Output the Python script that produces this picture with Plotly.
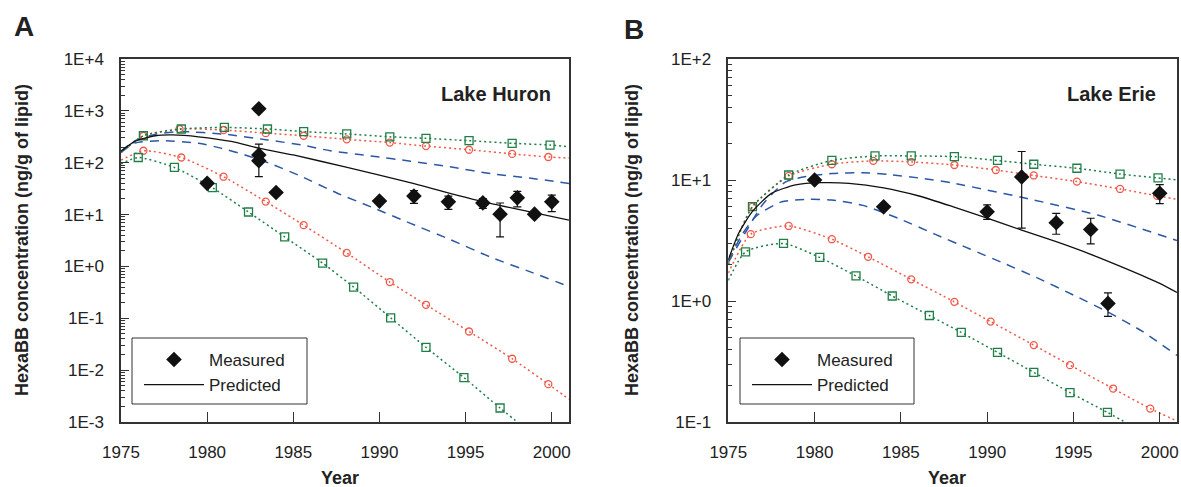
import plotly.graph_objects as go

W, H = 1181, 487

# ---------------- Panel A: Lake Huron ----------------
a_meas_year = [1980, 1983, 1983, 1983, 1984, 1990, 1992, 1994, 1996, 1997, 1998, 1999, 2000]
a_meas_val = [40, 1100, 141, 109, 26.7, 18.2, 22.7, 17.6, 16.8, 10.2, 21, 10.2, 17.6]
a_meas_sd = [0, 0, 87, 0, 0, 0, 6.2, 5.0, 3.6, 6.5, 6.9, 0, 6.2]

a_pred_year = [1975, 1975.8, 1977, 1978, 1979.5, 1981.4, 1983, 1985, 1988, 1991.6, 1995.5, 1998, 2001]
a_pred_val = [166, 257, 331, 343, 316, 257, 191, 141, 83, 42.7, 19.5, 12.7, 7.8]

a_blue_hi_year = [1975, 1975.8, 1977, 1978.5, 1981, 1983.5, 1985.5, 1987.15, 1989.5, 1991.8, 1994.1, 1996.45, 1998.8, 2001]
a_blue_hi_val = [166, 263, 355, 398, 355, 275, 219, 170, 135, 107, 83.2, 61.7, 50.1, 39.8]

a_blue_lo_year = [1975, 1975.8, 1977.4, 1979.5, 1980.8, 1982.2, 1983.6, 1985.3, 1987.5, 1989.5, 1991.8, 1994.1, 1996.45, 1998.8, 2001]
a_blue_lo_val = [158, 240, 266, 237, 191, 141, 98, 57.5, 26.3, 14.1, 6.76, 3.31, 1.51, 0.776, 0.41]

a_red_hi_year = [1975, 1976.3, 1978.4, 1980.95, 1983.4, 1985.6, 1988.1, 1990.6, 1992.7, 1995.2, 1997.7, 1999.8, 2001]
a_red_hi_val = [158, 331, 447, 427, 372, 331, 282, 245, 209, 178, 148, 129, 123]

a_green_hi_year = [1975, 1976.3, 1978.5, 1981, 1983.5, 1985.6, 1988.1, 1990.6, 1992.7, 1995.2, 1997.7, 1999.9, 2001]
a_green_hi_val = [158, 331, 447, 479, 447, 398, 359, 316, 295, 266, 237, 219, 204]

a_red_lo_year = [1975, 1976.3, 1978.5, 1980.95, 1983.4, 1985.6, 1988.1, 1990.6, 1992.7, 1995.2, 1997.7, 1999.8, 2001]
a_red_lo_val = [112, 170, 126, 53.7, 17.8, 6.24, 1.82, 0.50, 0.182, 0.0556, 0.0166, 0.00537, 0.00275]

a_green_lo_year = [1975, 1976.0, 1978.1, 1980.3, 1982.4, 1984.5, 1986.7, 1988.5, 1990.65, 1992.7, 1994.9, 1997.0, 1999]
a_green_lo_val = [95, 126, 81, 33, 11.2, 3.7, 1.16, 0.40, 0.102, 0.0275, 0.0072, 0.00186, 0.00054]

# ---------------- Panel B: Lake Erie ----------------
b_meas_year = [1980, 1984, 1990, 1992, 1994, 1996, 1997, 2000]
b_meas_val = [10.0, 6.0, 5.47, 10.6, 4.43, 3.9, 0.955, 7.77]
b_meas_sd = [0, 0, 0.75, 6.6, 0.87, 0.93, 0.21, 1.4]

b_pred_year = [1975, 1975.6, 1976.4, 1977.5, 1978.9, 1980.4, 1982, 1984, 1986, 1988, 1990, 1992, 1994, 1996, 1998, 2000, 2001]
b_pred_val = [2.19, 3.63, 5.5, 7.76, 9.12, 9.5, 9.38, 8.61, 7.41, 6.03, 4.84, 3.85, 3.09, 2.43, 1.86, 1.40, 1.175]

b_blue_hi_year = [1975, 1976, 1977, 1978.3, 1979.5, 1981, 1982.8, 1984.3, 1986.25, 1988, 1992.7, 1996.4, 2001]
b_blue_hi_val = [2.09, 3.7, 6.3, 9.6, 10.7, 11.3, 11.5, 11.1, 10.3, 9.44, 6.84, 5.13, 3.16]

b_blue_lo_year = [1975, 1975.8, 1976.6, 1978.1, 1979.7, 1981, 1982.8, 1984.9, 1987, 1989, 1991, 1993, 1995, 1997, 1999, 2001]
b_blue_lo_val = [2.14, 3.55, 5.01, 6.61, 6.92, 6.84, 6.17, 4.79, 3.55, 2.69, 2.04, 1.53, 1.12, 0.81, 0.56, 0.355]

b_red_hi_year = [1975, 1975.7, 1976.4, 1978.5, 1981, 1983.4, 1985.6, 1988.1, 1990.5, 1992.7, 1995.2, 1997.7, 1999.85, 2001]
b_red_hi_val = [2.0, 3.8, 6.03, 10.8, 13.5, 14.4, 14.1, 13.3, 12.1, 10.9, 9.7, 8.43, 7.41, 6.92]

b_green_hi_year = [1975, 1975.7, 1976.4, 1978.5, 1981, 1983.5, 1985.6, 1988.1, 1990.6, 1992.7, 1995.2, 1997.7, 1999.9, 2001]
b_green_hi_val = [2.0, 3.8, 6.03, 11.0, 14.5, 15.8, 15.8, 15.6, 14.5, 13.5, 12.5, 11.2, 10.4, 10.0]

b_red_lo_year = [1975, 1976.3, 1978.5, 1981, 1983.1, 1985.6, 1988.1, 1990.2, 1992.7, 1994.8, 1997.3, 1999.45, 2001]
b_red_lo_val = [1.70, 3.57, 4.17, 3.24, 2.32, 1.51, 0.984, 0.676, 0.432, 0.295, 0.189, 0.129, 0.102]

b_green_lo_year = [1975, 1976, 1978.2, 1980.3, 1982.4, 1984.5, 1986.65, 1988.5, 1990.6, 1992.7, 1994.8, 1996.97, 1999]
b_green_lo_val = [1.48, 2.55, 2.99, 2.29, 1.61, 1.10, 0.759, 0.550, 0.376, 0.257, 0.175, 0.120, 0.083]

x_ticks = [1975, 1980, 1985, 1990, 1995, 2000]
a_y_ticks = [1e-3, 1e-2, 1e-1, 1, 10, 100, 1000, 10000]
a_y_text = ["1E-3", "1E-2", "1E-1", "1E+0", "1E+1", "1E+2", "1E+3", "1E+4"]
b_y_ticks = [0.1, 1, 10, 100]
b_y_text = ["1E-1", "1E+0", "1E+1", "1E+2"]

BLUE = "#2b57a6"
RED = "#f0584a"
GREEN = "#1f7f47"
BLACK = "#111111"
FONT = "Liberation Sans, Arial, sans-serif"

fig = go.Figure()


def add_curve(xs, ys, color, dash, xa, ya, symbol=None, mark_from=1, mark_to=-1):
    fig.add_trace(go.Scatter(x=xs, y=ys, mode="lines", xaxis=xa, yaxis=ya,
                             line=dict(color=color, width=1.5, dash=dash, shape="spline", smoothing=0.6),
                             showlegend=False, hoverinfo="skip"))
    if symbol:
        fig.add_trace(go.Scatter(x=xs[mark_from:mark_to], y=ys[mark_from:mark_to], mode="markers",
                                 xaxis=xa, yaxis=ya,
                                 marker=dict(symbol=symbol, size=8 if symbol == "square" else 7,
                                             color="rgba(255,255,255,0)",
                                             line=dict(color=color, width=1.3)),
                                 showlegend=False, hoverinfo="skip"))


DOT = "2px,3px"
DASH = "9px,7px"

# Panel A curves
add_curve(a_blue_hi_year, a_blue_hi_val, BLUE, DASH, "x", "y")
add_curve(a_blue_lo_year, a_blue_lo_val, BLUE, DASH, "x", "y")
add_curve(a_red_hi_year, a_red_hi_val, RED, DOT, "x", "y", "circle")
add_curve(a_green_hi_year, a_green_hi_val, GREEN, DOT, "x", "y", "square")
add_curve(a_red_lo_year, a_red_lo_val, RED, DOT, "x", "y", "circle")
add_curve(a_green_lo_year, a_green_lo_val, GREEN, DOT, "x", "y", "square")

# Panel B curves
add_curve(b_blue_hi_year, b_blue_hi_val, BLUE, DASH, "x2", "y2")
add_curve(b_blue_lo_year, b_blue_lo_val, BLUE, DASH, "x2", "y2")
add_curve(b_red_hi_year, b_red_hi_val, RED, DOT, "x2", "y2", "circle", 2)
add_curve(b_green_hi_year, b_green_hi_val, GREEN, DOT, "x2", "y2", "square", 2)
add_curve(b_red_lo_year, b_red_lo_val, RED, DOT, "x2", "y2", "circle")
add_curve(b_green_lo_year, b_green_lo_val, GREEN, DOT, "x2", "y2", "square")

# Measured + predicted
for (my, mv, ms, py, pv, xa, ya, lg) in [
    (a_meas_year, a_meas_val, a_meas_sd, a_pred_year, a_pred_val, "x", "y", "legend"),
    (b_meas_year, b_meas_val, b_meas_sd, b_pred_year, b_pred_val, "x2", "y2", "legend2"),
]:
    fig.add_trace(go.Scatter(x=py, y=pv, mode="lines", name="Predicted", xaxis=xa, yaxis=ya,
                             line=dict(color=BLACK, width=1.3, shape="spline", smoothing=0.6),
                             legend=lg, legendrank=2))
    fig.add_trace(go.Scatter(x=my, y=mv, mode="markers", name="Measured", xaxis=xa, yaxis=ya,
                             marker=dict(symbol="diamond", size=12, color=BLACK),
                             error_y=dict(type="data", array=ms, visible=True, color=BLACK,
                                          thickness=1.2, width=4),
                             legend=lg, legendrank=1))


def minor_vals(lo, hi):
    out = []
    for d in range(lo, hi):
        for k in range(2, 10):
            out.append(k * 10 ** d)
    return out


axis_common = dict(showline=True, linecolor="#333333", linewidth=1.5, mirror=True,
                   showgrid=False, zeroline=False, ticks="inside", tickcolor="#333333",
                   automargin=False,
                   tickfont=dict(family=FONT, size=17, color="#222222"))

xd_a = [121 / W, 569 / W]
xd_b = [728.3 / W, 1177 / W]
yd = [(H - 422) / H, (H - 59) / H]

fig.update_layout(
    width=W, height=H, margin=dict(l=0, r=0, t=0, b=0, autoexpand=False),
    paper_bgcolor="white", plot_bgcolor="white",
    font=dict(family=FONT, color="#222222"),
    xaxis=dict(domain=xd_a, range=[1975, 2001], tickvals=x_ticks, ticklen=10,
               ticklabelstandoff=14, anchor="y", **axis_common),
    yaxis=dict(domain=yd, type="log", range=[-3, 4], tickvals=a_y_ticks, ticktext=a_y_text,
               ticklen=8, ticklabelstandoff=12, anchor="x",
               minor=dict(tickvals=minor_vals(-3, 4), ticks="inside", ticklen=4, tickcolor="#333333"),
               **axis_common),
    xaxis2=dict(domain=xd_b, range=[1975, 2001], tickvals=x_ticks, ticklen=10,
                ticklabelstandoff=14, anchor="y2", **axis_common),
    yaxis2=dict(domain=yd, type="log", range=[-1, 2], tickvals=b_y_ticks, ticktext=b_y_text,
                ticklen=8, ticklabelstandoff=12, anchor="x2",
                minor=dict(tickvals=minor_vals(-1, 2), ticks="inside", ticklen=4, tickcolor="#333333"),
                **axis_common),
    legend=dict(x=139 / W, y=(H - 342) / H, xanchor="left", yanchor="top",
                bgcolor="rgba(0,0,0,0)", borderwidth=0, itemwidth=60,
                font=dict(family=FONT, size=17, color="#222222"), tracegroupgap=0),
    legend2=dict(x=747 / W, y=(H - 342) / H, xanchor="left", yanchor="top",
                 bgcolor="rgba(0,0,0,0)", borderwidth=0, itemwidth=60,
                 font=dict(family=FONT, size=17, color="#222222"), tracegroupgap=0),
    shapes=[
        dict(type="rect", xref="paper", yref="paper", x0=132 / W, x1=307 / W,
             y0=(H - 404) / H, y1=(H - 338) / H, line=dict(color="#333333", width=1)),
        dict(type="rect", xref="paper", yref="paper", x0=740 / W, x1=914 / W,
             y0=(H - 404) / H, y1=(H - 338) / H, line=dict(color="#333333", width=1)),
    ],
    annotations=[
        dict(text="<b>A</b>", x=12 / W, y=(H - 26) / H, xref="paper", yref="paper",
             xanchor="left", yanchor="middle", showarrow=False, font=dict(size=28, color="#222222")),
        dict(text="<b>B</b>", x=622 / W, y=(H - 29) / H, xref="paper", yref="paper",
             xanchor="left", yanchor="middle", showarrow=False, font=dict(size=28, color="#222222")),
        dict(text="<b>Lake Huron</b>", x=553 / W, y=(H - 94) / H, xref="paper", yref="paper",
             xanchor="right", yanchor="middle", showarrow=False, font=dict(size=20, color="#222222")),
        dict(text="<b>Lake Erie</b>", x=1158 / W, y=(H - 94) / H, xref="paper", yref="paper",
             xanchor="right", yanchor="middle", showarrow=False, font=dict(size=20, color="#222222")),
        dict(text="<b>HexaBB concentration (ng/g of lipid)</b>", x=22 / W, y=(H - 240) / H,
             xref="paper", yref="paper", textangle=-90, xanchor="center", yanchor="middle",
             showarrow=False, font=dict(size=18, color="#222222")),
        dict(text="<b>HexaBB concentration (ng/g of lipid)</b>", x=632 / W, y=(H - 240) / H,
             xref="paper", yref="paper", textangle=-90, xanchor="center", yanchor="middle",
             showarrow=False, font=dict(size=18, color="#222222")),
        dict(text="<b>Year</b>", x=340 / W, y=(H - 478) / H, xref="paper", yref="paper",
             xanchor="center", yanchor="middle", showarrow=False, font=dict(size=18, color="#222222")),
        dict(text="<b>Year</b>", x=947 / W, y=(H - 478) / H, xref="paper", yref="paper",
             xanchor="center", yanchor="middle", showarrow=False, font=dict(size=18, color="#222222")),
    ],
)

fig.write_html("out.html", config={"displayModeBar": False},
               post_script="document.body.style.margin='0px';")
